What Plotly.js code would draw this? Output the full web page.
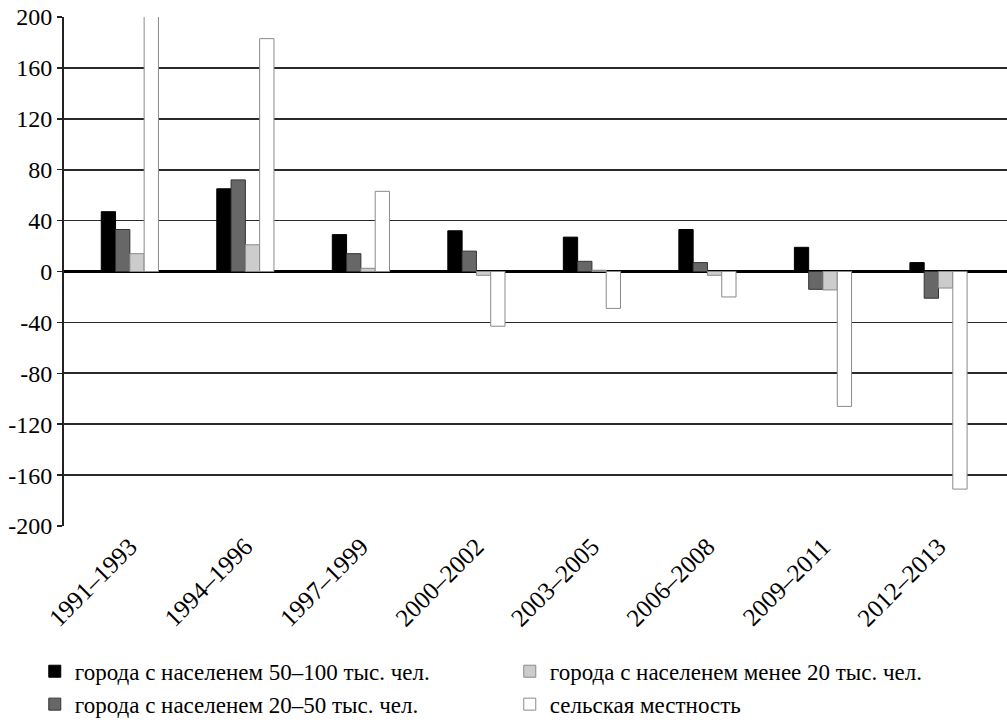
<!DOCTYPE html>
<html>
<head>
<meta charset="utf-8">
<script src="https://cdn.plot.ly/plotly-3.0.1.min.js"></script>
<style>html,body{margin:0;padding:0;background:#fff;}#chart{width:1007px;height:726px;}</style>
</head>
<body>
<div id="chart"></div>
<script>
const periods = ["1991–1993","1994–1996","1997–1999","2000–2002","2003–2005","2006–2008","2009–2011","2012–2013"];
const cities50to100 = [47, 65, 29, 32, 27, 33, 19, 7];
const cities20to50 = [33, 72, 14, 16, 8, 7, -14, -21];
const citiesUnder20 = [14, 21, 2.5, -3, 1, -3, -14.5, -13];
const rural = [204, 183, 63, -43, -29, -20, -106, -171];
const seriesNames = [
  "города с населенем 50–100 тыс. чел.",
  "города с населенем 20–50 тыс. чел.",
  "города с населенем менее 20 тыс. чел.",
  "сельская местность"
];
const yTicks = [200,160,120,80,40,0,-40,-80,-120,-160,-200];

const fills = ["#000000","#676767","#cccccc","#ffffff"];
const outlines = ["#000000","#333333","#8a8a8a","#8a8a8a"];
const ranks = [1,3,2,4];
const values = [cities50to100, cities20to50, citiesUnder20, rural];

const FONT = "Liberation Serif, Times New Roman, serif";

const traces = values.map((v,i)=>({
  type:"bar",
  x: periods,
  y: v,
  name: seriesNames[i],
  legendrank: ranks[i],
  cliponaxis:false,
  marker:{color:fills[i], line:{color:outlines[i], width:1}}
}));

const layout = {
  width:1007, height:726,
  margin:{l:64, r:0, t:17, b:200},
  paper_bgcolor:"#fff", plot_bgcolor:"#fff",
  font:{family:FONT, color:"#000", size:23},
  barmode:"group", bargap:0.505, bargroupgap:0,
  showlegend:true,
  legend:{orientation:"h", x:-0.031, xanchor:"left", y:-0.3925, yanchor:"bottom",
    entrywidth:430, entrywidthmode:"pixels", font:{family:FONT, size:23, color:"#000"}, traceorder:"normal"},
  xaxis:{type:"category", range:[-0.57,7.593], showgrid:false, zeroline:false,
    showline:false, ticks:"", tickangle:-45, tickfont:{family:FONT, size:25, color:"#000"}},
  yaxis:{range:[-200,200], tickvals:yTicks, ticktext:yTicks.map(String),
    showgrid:true, gridcolor:"#2a2a2a", gridwidth:1.6,
    zeroline:true, zerolinecolor:"#000", zerolinewidth:3,
    showline:true, linecolor:"#222", linewidth:2,
    ticks:"outside", ticklen:5, tickcolor:"#222", tickwidth:1.5,
    tickfont:{family:FONT, size:24, color:"#000"}}
};
Plotly.newPlot("chart", traces, layout, {displayModeBar:false, staticPlot:true});
</script>
</body>
</html>
